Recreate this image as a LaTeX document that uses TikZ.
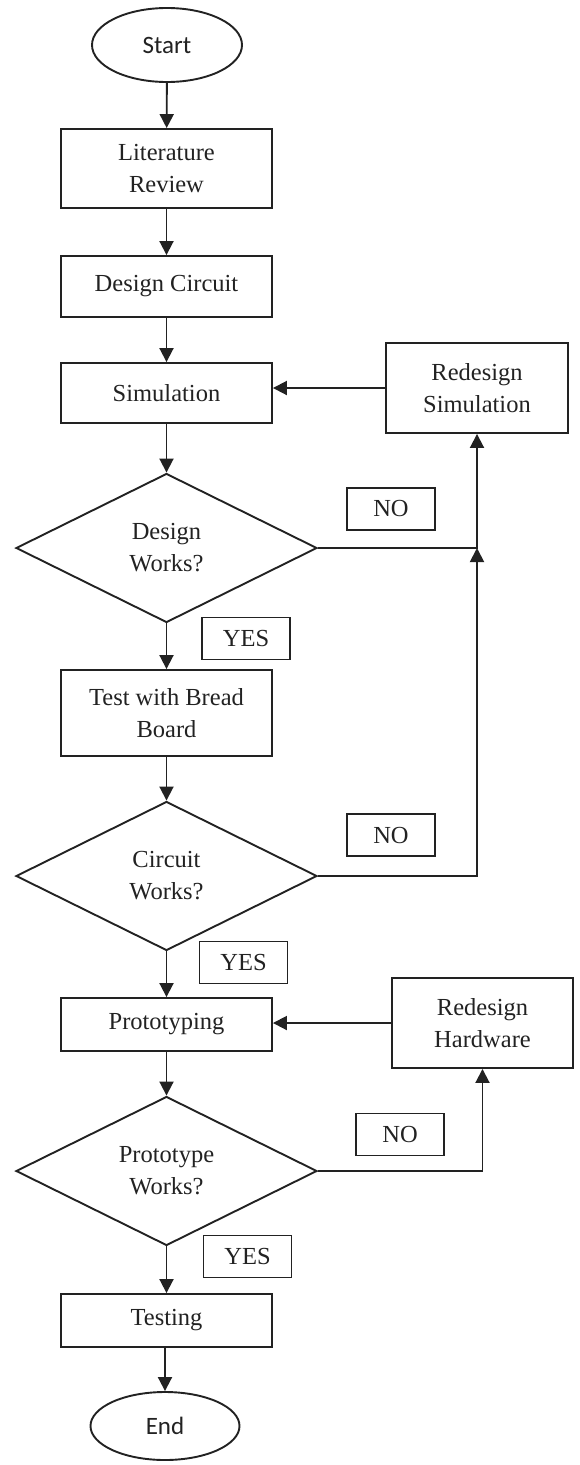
\documentclass[tikz,border=0pt]{standalone}
\usepackage{fontspec}
\setmainfont{Liberation Serif}
\newfontfamily\sansf{Carlito}
\usetikzlibrary{shapes.geometric,arrows.meta}
\definecolor{ink}{HTML}{222222}
\tikzset{
  base/.style={draw=ink, line width=1.9pt, text=ink, inner sep=0pt, align=center,
    font=\fontsize{24.5}{32}\selectfont},
  proc/.style={base, rectangle, minimum width=211pt},
  term/.style={base, ellipse, font=\sansf\fontsize{25}{30}\selectfont},
  decide/.style={base, diamond, aspect=2, minimum width=301pt, minimum height=149pt},
  tag/.style={base, rectangle, line width=1.6pt, minimum width=88pt, minimum height=42pt},
  arr/.style={draw=ink, line width=1.9pt, -{Triangle[width=14pt,length=14pt]}},
  ln/.style={draw=ink, line width=1.9pt}
}
\begin{document}
\begin{tikzpicture}[x=1pt,y=-1pt]
\useasboundingbox (0,0) rectangle (580,1465);
\node[term, minimum width=150pt, minimum height=74pt] (start) at (167,45) {Start};
\node[proc, minimum height=79pt] (lit) at (166.5,168.5) {Literature\\Review};
\node[proc, minimum height=61pt] (dc) at (166.5,286.5) {Design Circuit};
\node[proc, minimum height=60pt] (sim) at (166.5,393) {Simulation};
\node[proc, minimum width=182pt, minimum height=90pt] (rsim) at (477,388) {Redesign\\Simulation};
\node[decide] (dw) at (166.5,548) {Design\\Works?};
\node[tag] (no1) at (391,509) {NO};
\node[tag] (yes1) at (246,638.5) {YES};
\node[proc, minimum height=86pt] (tbb) at (166.5,713) {Test with Bread\\Board};
\node[decide] (cw) at (166.5,876) {Circuit\\Works?};
\node[tag] (no2) at (391,835) {NO};
\node[tag] (yes2) at (243.5,962.5) {YES};
\node[proc, minimum height=53pt] (proto) at (166.5,1024.5) {Prototyping};
\node[proc, minimum width=181pt, minimum height=90pt] (rhw) at (482.5,1023) {Redesign\\Hardware};
\node[decide] (pw) at (166.5,1171) {Prototype\\Works?};
\node[tag] (no3) at (400,1134.5) {NO};
\node[tag] (yes3) at (247.5,1256.5) {YES};
\node[proc, minimum height=53pt] (test) at (166.5,1320.5) {Testing};
\node[term, minimum width=149pt, minimum height=68pt] (end) at (165,1426) {End};

\draw[arr] (start) -- (lit);
\draw[arr] (lit) -- (dc);
\draw[arr] (dc) -- (sim);
\draw[arr] (sim) -- (dw);
\draw[arr] (dw) -- (tbb);
\draw[arr] (tbb) -- (cw);
\draw[arr] (cw) -- (proto);
\draw[arr] (proto) -- (pw);
\draw[arr] (pw) -- (test);
\draw[arr] (test.south -| end.north) -- (end.north);

\draw[arr] (rsim.west) -- (rsim.west -| sim.east);
\draw[arr] (dw.east) -- (dw.east -| rsim.south) -- (rsim.south);
\draw[arr] (cw.east) -- (cw.east -| rsim.south) -- (dw.east -| rsim.south);
\draw[arr] (rhw.west) -- (rhw.west -| proto.east);
\draw[arr] (pw.east) -- (pw.east -| rhw.south) -- (rhw.south);
\end{tikzpicture}
\end{document}
